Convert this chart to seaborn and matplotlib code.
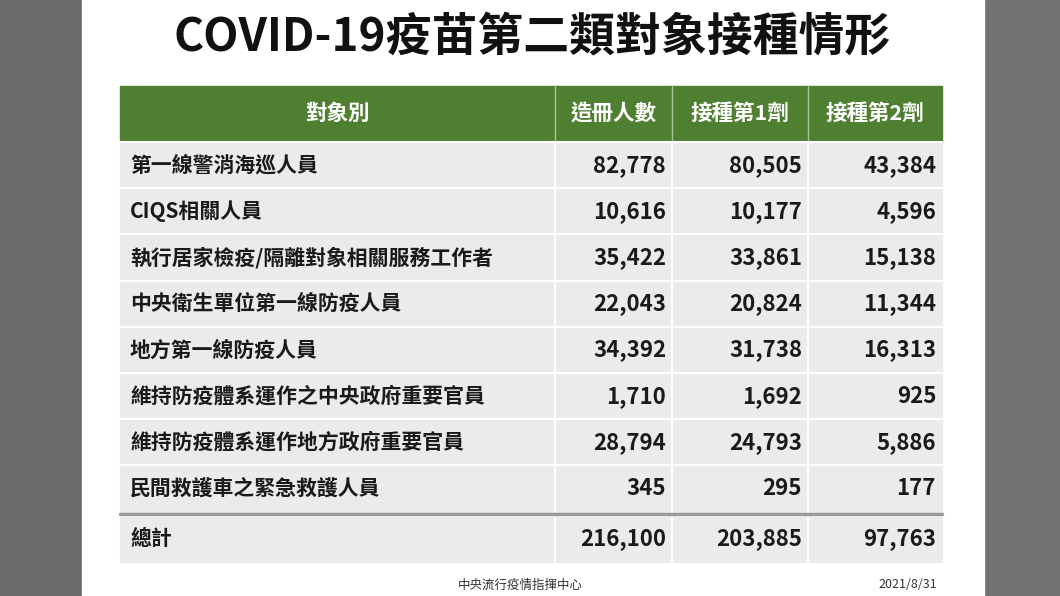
import matplotlib
matplotlib.use("Agg")
import matplotlib.pyplot as plt
import seaborn as sns
from matplotlib.patches import Rectangle

sns.set_theme(style="white")
plt.rcParams['font.family'] = ['Noto Sans CJK TC', 'DejaVu Sans']

title = "COVID-19疫苗第二類對象接種情形"
headers = ["對象別", "造冊人數", "接種第1劑", "接種第2劑"]
categories = ["第一線警消海巡人員", "CIQS相關人員", "執行居家檢疫/隔離對象相關服務工作者",
              "中央衛生單位第一線防疫人員", "地方第一線防疫人員",
              "維持防疫體系運作之中央政府重要官員", "維持防疫體系運作地方政府重要官員",
              "民間救護車之緊急救護人員"]
registered = [82778, 10616, 35422, 22043, 34392, 1710, 28794, 345]
dose1 = [80505, 10177, 33861, 20824, 31738, 1692, 24793, 295]
dose2 = [43384, 4596, 15138, 11344, 16313, 925, 5886, 177]
total_label = "總計"
totals = [216100, 203885, 97763]
source = "中央流行疫情指揮中心"
date = "2021/8/31"

fig = plt.figure(figsize=(10.6, 5.96), dpi=100)
ax = fig.add_axes([0, 0, 1, 1])
ax.set_xlim(0, 1060); ax.set_ylim(596, 0); ax.axis("off")

ax.add_patch(Rectangle((0, 0), 82, 596, color="#6b6b6b", zorder=0))
ax.add_patch(Rectangle((984, 0), 76, 596, color="#727272", zorder=0))
ax.add_patch(Rectangle((82, 0), 902, 596, color="white", zorder=0))

ax.text(532, 38, title, ha="center", va="center", fontsize=33, fontweight="bold", color="#111111")

cols = [120, 555, 672, 808, 942]
green = "#4f7f31"
ax.add_patch(Rectangle((cols[0], 86), cols[-1]-cols[0], 56, color=green))
for j, h in enumerate(headers):
    ax.text((cols[j]+cols[j+1])/2, 113, h, ha="center", va="center", color="white",
            fontsize=15.5, fontweight="bold")
for x in cols[1:-1]:
    ax.plot([x, x], [86, 142], color="#a9c29a", lw=1)

rh = 46.2
rows = [(c, [r, a, b]) for c, r, a, b in zip(categories, registered, dose1, dose2)]
rows.append((total_label, totals))
for i, (lab, vals) in enumerate(rows):
    y0 = 142 + i*rh + (4 if i == len(rows)-1 else 0)
    ax.add_patch(Rectangle((cols[0], y0), cols[-1]-cols[0], rh, color="#e9ece8", zorder=1))
    ax.plot([cols[0], cols[-1]], [y0, y0], color="white", lw=1.5, zorder=2)
    yc = y0 + rh/2
    ax.text(cols[0]+10, yc, lab, ha="left", va="center", fontsize=15, fontweight="bold", color="#1a1a1a", zorder=3)
    for j, v in enumerate(vals):
        ax.text(cols[j+2]-6, yc, f"{v:,}", ha="right", va="center", fontsize=16, fontweight="bold", color="#1a1a1a", zorder=3)
for x in cols[1:-1]:
    ax.plot([x, x], [142, 142+9*rh+4], color="white", lw=1.5, zorder=2)
ax.plot([cols[0], cols[-1]], [142+8*rh+2, 142+8*rh+2], color="#9a9a9a", lw=2.5, zorder=4)

ax.text(520, 585, source, ha="center", va="center", fontsize=9, color="#333333")
ax.text(908, 585, date, ha="center", va="center", fontsize=9, color="#333333")
fig.savefig("out.png", dpi=100)
